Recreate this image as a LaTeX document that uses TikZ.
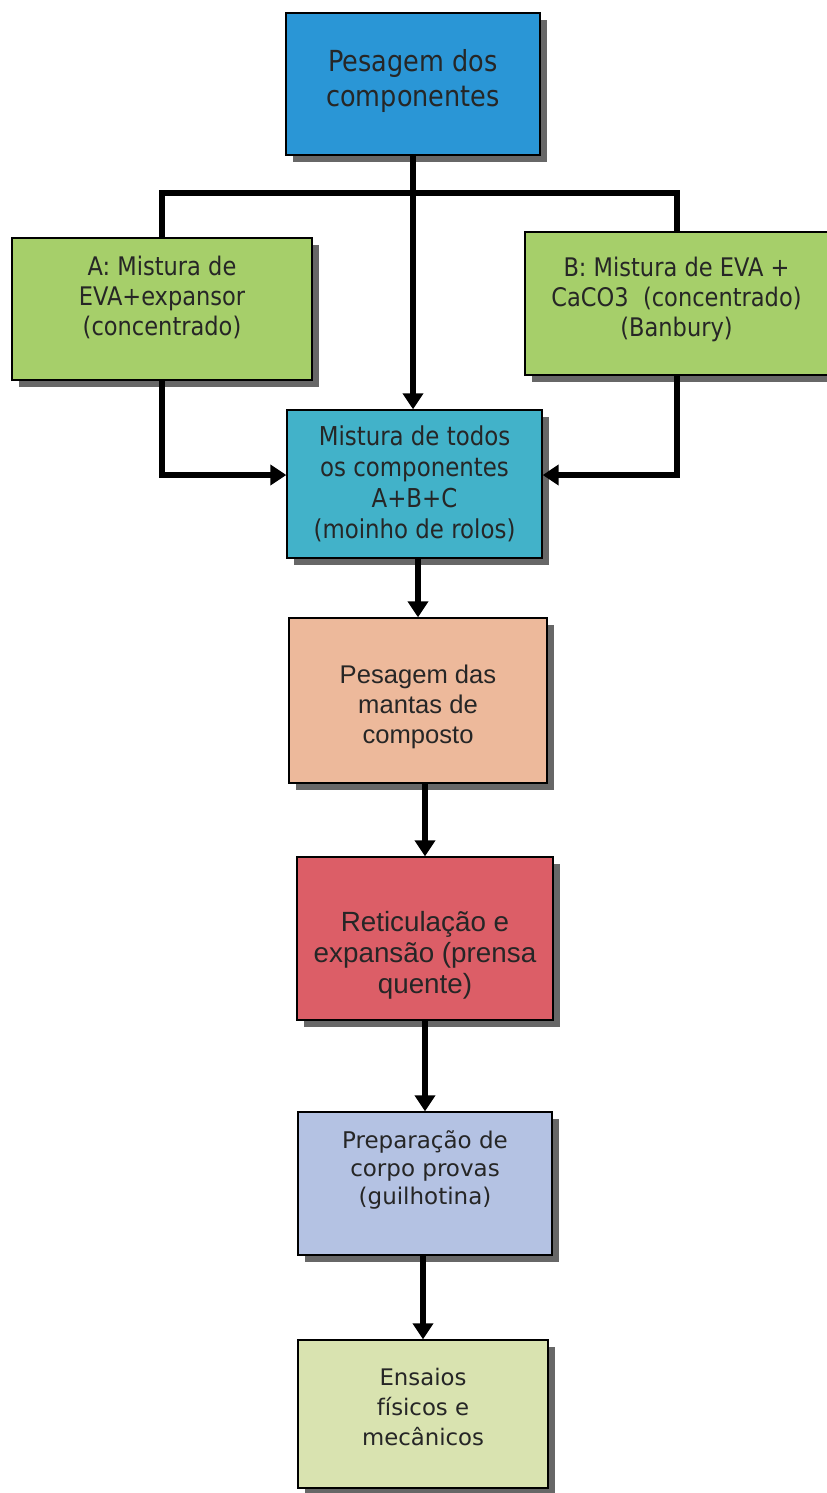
\documentclass[tikz,border=0pt]{standalone}
\usepackage{fontspec}
\setmainfont{DejaVu Sans}
\newfontfamily\tahomafont[FakeStretch=0.88]{DejaVu Sans}
\newfontfamily\arialfont{Liberation Sans}
\usetikzlibrary{arrows.meta,shadows,calc}
% struts to nudge a box's text up (depth) or down (height)
\newcommand{\padlow}[1]{\rule[-#1]{0pt}{#1}}
\newcommand{\padtop}[1]{\rule{0pt}{#1}}

\tikzset{
  stagebox/.style={draw=black, line width=0.7pt, align=center, inner sep=0pt, text=black!85,
    drop shadow={shadow xshift=3.5pt, shadow yshift=-3.5pt, fill=black!85, opacity=0.7}},
  link/.style={line width=3pt, draw=black},
  flow/.style={link, -{Triangle[width=10pt,length=8pt]}},
}

\begin{document}
\begin{tikzpicture}[x=0.5pt,y=0.5pt,yscale=-1,xscale=1]
\useasboundingbox (0,0) rectangle (826,1493);

%Box: weighing
\node [stagebox, fill={rgb, 255:red, 42; green, 150; blue, 214 }, minimum width=127pt, minimum height=71pt, font=\tahomafont\fontsize{14.5}{17.5}\selectfont] (pesagem) at (413,84) {Pesagem dos\\componentes\padlow{6.5pt}};
%Box: A
\node [stagebox, fill={rgb, 255:red, 166; green, 207; blue, 106 }, minimum width=150pt, minimum height=71pt, font=\tahomafont\fontsize{12.8}{15}\selectfont] (misturaA) at (162,309) {A: Mistura de\\EVA+expansor\\(concentrado)\padlow{13pt}};
%Box: B
\node [stagebox, fill={rgb, 255:red, 166; green, 207; blue, 106 }, minimum width=151.5pt, minimum height=71.5pt, font=\tahomafont\fontsize{12.8}{15}\selectfont] (misturaB) at (676.5,303.5) {B: Mistura de EVA +\\CaCO3~ (concentrado)\\(Banbury)\padlow{7pt}};
%Box: all components
\node [stagebox, fill={rgb, 255:red, 66; green, 178; blue, 201 }, minimum width=127.5pt, minimum height=74pt, font=\tahomafont\fontsize{13}{15.4}\selectfont] (misturaT) at (414.5,484) {Mistura de todos\\os componentes\\A+B+C\\(moinho de rolos)};
%Box: sheets
\node [stagebox, fill={rgb, 255:red, 237; green, 185; blue, 155 }, minimum width=129pt, minimum height=82.5pt, font=\arialfont\fontsize{12.8}{15}\selectfont] (mantas) at (418,700.5) {\padtop{16pt}Pesagem das\\mantas de\\composto};
%Box: press
\node [stagebox, fill={rgb, 255:red, 220; green, 94; blue, 103 }, minimum width=128pt, minimum height=81.5pt, font=\arialfont\fontsize{13.9}{15.5}\selectfont] (prensa) at (425,938.5) {\padtop{27pt}Reticulação e\\expansão (prensa\\quente)};
%Box: specimens
\node [stagebox, fill={rgb, 255:red, 180; green, 194; blue, 227 }, minimum width=127pt, minimum height=71.5pt, font=\fontsize{11.5}{14}\selectfont] (provas) at (425,1183.5) {Preparação de\\corpo provas\\(guilhotina)\padlow{15.5pt}};
%Box: tests
\node [stagebox, fill={rgb, 255:red, 217; green, 227; blue, 176 }, minimum width=125pt, minimum height=74pt, font=\fontsize{11.4}{15}\selectfont] (ensaios) at (423,1414) {Ensaios\\físicos e\\mecânicos\padlow{7pt}};

%Lines: split bar
\coordinate (barra) at (413,193);
\draw [link] (misturaA.north) |- (barra) -| (misturaB.north);
\draw [flow] (pesagem.south) -- (pesagem.south |- misturaT.north);
%Lines: A and B into the mixing
\draw [flow] (misturaA.south) |- ($(misturaT.west)+(0,-9)$);
\draw [flow] (misturaB.south) |- ($(misturaT.east)+(0,-9)$);
%Lines: main chain
\draw [flow] (mantas.north |- misturaT.south) -- (mantas.north);
\draw [flow] (prensa.north |- mantas.south) -- (prensa.north);
\draw [flow] (provas.south |- prensa.south) -- (provas.north);
\draw [flow] (ensaios.north |- provas.south) -- (ensaios.north);

\end{tikzpicture}
\end{document}
